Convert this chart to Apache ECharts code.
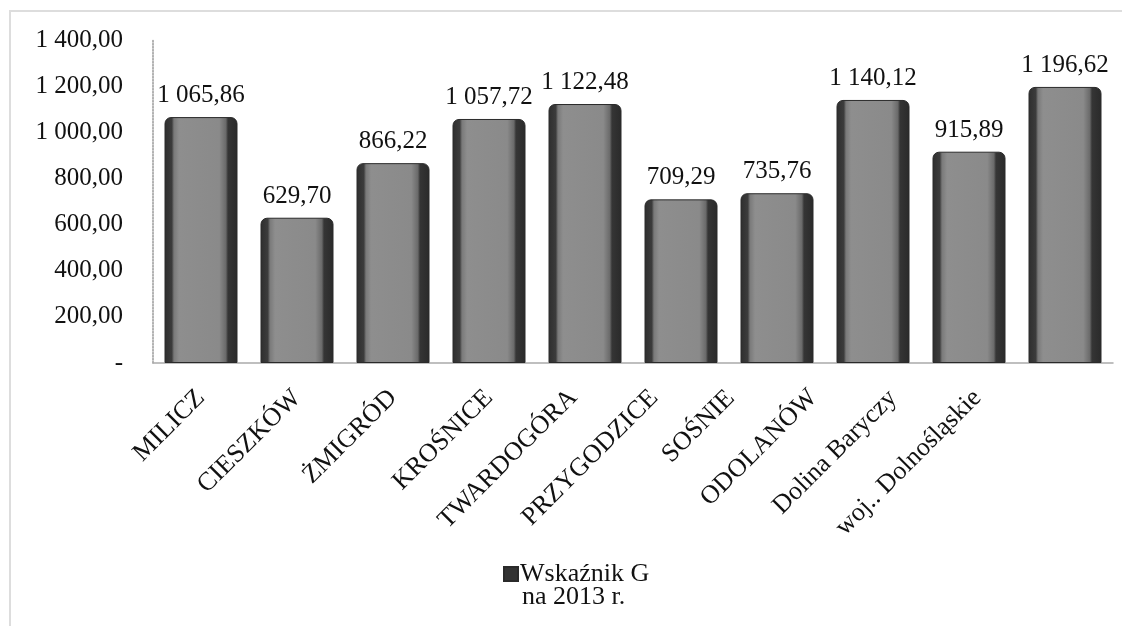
<!DOCTYPE html>
<html>
<head>
<meta charset="utf-8">
<script src="https://cdn.jsdelivr.net/npm/echarts@6/dist/echarts.min.js"></script>
<style>
html,body{margin:0;padding:0;background:#fff;}
#chart{width:1122px;height:626px;}
</style>
</head>
<body>
<div id="chart"></div>
<script>
var categories = ['MILICZ','CIESZKÓW','ŻMIGRÓD','KROŚNICE','TWARDOGÓRA','PRZYGODZICE','SOŚNIE','ODOLANÓW','Dolina Baryczy','woj.. Dolnośląskie'];
var values = [1065.86, 629.70, 866.22, 1057.72, 1122.48, 709.29, 735.76, 1140.12, 915.89, 1196.62];
var seriesName = 'Wskaźnik G';
var subtitle = 'na 2013 r.';
var yTicks = [0, 200, 400, 600, 800, 1000, 1200, 1400];

function fmt(v){
  if (v === 0) return '-';
  var s = v.toFixed(2).split('.');
  var intPart = s[0].replace(/\B(?=(\d{3})+(?!\d))/g, ' ');
  return intPart + ',' + s[1];
}

var FONT = '"Liberation Serif", "DejaVu Serif", serif';

// horizontal leftward shift of each rotated category label (layout only)
var labelShift = [0, 0, 0, 0, 12, 27, 46, 60, 76, 88];
var rich = {};
labelShift.forEach(function(d, i){
  rich['c' + i] = {
    fontFamily: FONT, fontSize: 26, color: '#111',
    padding: [0, Math.round(d * 0.707), Math.round(d * 1.414), 0]
  };
});

var chart = echarts.init(document.getElementById('chart'));
chart.setOption({
  backgroundColor: '#fff',
  animation: false,
  textStyle: {fontFamily: FONT},
  grid: {left: 153, right: 9, top: 40, bottom: 263, containLabel: false},
  legend: {
    show: true,
    left: 498,
    top: 556,
    itemWidth: 14,
    itemHeight: 14,
    itemGap: 4,
    icon: 'rect',
    textStyle: {fontFamily: FONT, fontSize: 26, color: '#111', padding: [0,0,0,-3]},
    data: [{name: seriesName, itemStyle: {color: '#333'}}]
  },
  graphic: [
    {type: 'text', left: 522, top: 584, style: {text: subtitle, font: '26px ' + FONT, fill: '#111'}},
    {type: 'rect', shape: {x: 10, y: 11, width: 1200, height: 700}, style: {fill: 'none', stroke: '#ddd', lineWidth: 2}, silent: true, z: -1}
  ],
  xAxis: {
    type: 'category',
    data: categories,
    axisLine: {show: true, lineStyle: {color: '#aaa', width: 1.5}},
    axisTick: {show: false},
    axisLabel: {
      rotate: 45, margin: 31, interval: 0, fontFamily: FONT, fontSize: 26, color: '#111',
      formatter: function(v, i){ return '{c' + i + '|' + v + '}'; },
      rich: rich
    }
  },
  yAxis: {
    type: 'value',
    min: yTicks[0],
    max: yTicks[yTicks.length - 1],
    interval: 200,
    splitLine: {show: false},
    axisLine: {show: true, lineStyle: {color: '#999', type: 'dotted', width: 1.5}},
    axisTick: {show: false},
    axisLabel: {margin: 30, fontFamily: FONT, fontSize: 25, color: '#111', formatter: fmt}
  },
  series: [{
    name: seriesName,
    type: 'bar',
    data: values,
    barWidth: 73,
    itemStyle: {
      borderRadius: [6, 6, 0, 0],
      borderColor: '#2a2a2a',
      borderWidth: 1,
      color: {
        type: 'linear', x: 0, y: 0, x2: 1, y2: 0,
        colorStops: [
          {offset: 0, color: '#2e2e2e'},
          {offset: 0.1, color: '#3c3c3c'},
          {offset: 0.13, color: '#7a7a7a'},
          {offset: 0.2, color: '#8e8e8e'},
          {offset: 0.75, color: '#8a8a8a'},
          {offset: 0.84, color: '#6a6a6a'},
          {offset: 0.87, color: '#353535'},
          {offset: 1, color: '#2a2a2a'}
        ]
      }
    },
    label: {
      show: true,
      position: 'top',
      distance: 9,
      fontFamily: FONT,
      fontSize: 25,
      color: '#111',
      formatter: function(p){ return fmt(p.value); }
    }
  }]
});
</script>
</body>
</html>
